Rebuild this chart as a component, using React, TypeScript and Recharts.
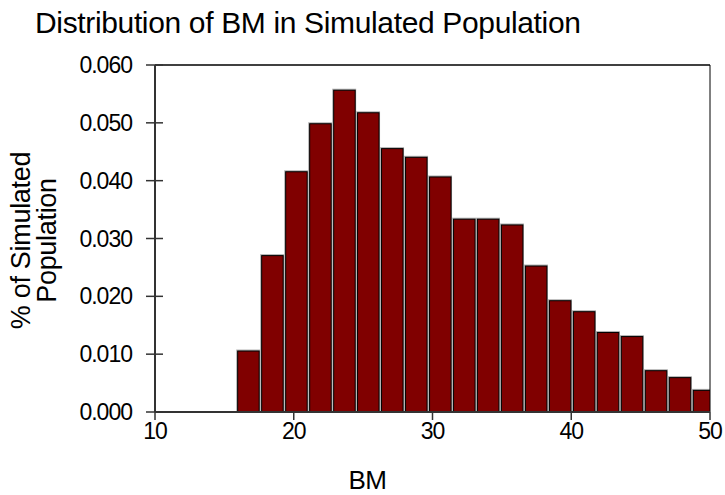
import { BarChart, Bar, XAxis, YAxis, ReferenceLine, Label } from "recharts";

// histogram bins (BM bin midpoints) and the share of the population in each
const BIN_CENTERS = [
  16.71, 18.44, 20.17, 21.9, 23.63, 25.35, 27.08, 28.81, 30.54, 32.27,
  33.99, 35.72, 37.45, 39.18, 40.91, 42.63, 44.36, 46.09, 47.82, 49.55,
];
const SHARES = [
  0.0108, 0.0273, 0.0418, 0.0501, 0.0559, 0.052, 0.0458, 0.0443, 0.0409, 0.0336,
  0.0336, 0.0326, 0.0255, 0.0195, 0.0176, 0.014, 0.0133, 0.0074, 0.0062, 0.004,
];
const X_TICKS = [10, 20, 30, 40, 50];
const Y_TICKS = [0, 0.01, 0.02, 0.03, 0.04, 0.05, 0.06];

const data = BIN_CENTERS.map((bm, i) => ({ bm, share: SHARES[i] }));

const FONT = '"Liberation Sans", Arial, Helvetica, sans-serif';
const AXIS = "#333";
const Y_TICK_OUT = 9;
const Y_TICK_IN = 8;
const Y_TICK_GAP = 14;

// maroon bar with a black outline and a thin grey rim
function BinRect(props: any) {
  const { x, y, width, height } = props;
  if (!height || height <= 0) return null;
  return (
    <g>
      <rect x={x} y={y} width={width} height={height} fill="#b0b0b0" />
      <rect
        x={x + 1.5}
        y={y + 1.5}
        width={width - 2.5}
        height={height - 1.5}
        fill="#800000"
        stroke="#000"
        strokeWidth={1}
      />
    </g>
  );
}

// y tick label plus the part of the tick that reaches into the plot
function YTick(props: any) {
  const { x, y, payload } = props;
  const axisX = x + Y_TICK_OUT + Y_TICK_GAP;
  return (
    <g>
      <line x1={axisX} x2={axisX + Y_TICK_IN} y1={y} y2={y} stroke={AXIS} strokeWidth={1.5} />
      <text
        x={x}
        y={y}
        dy="0.355em"
        textAnchor="end"
        fontFamily={FONT}
        fontSize={23}
        letterSpacing={-1}
        fill="#000"
      >
        {Number(payload.value).toFixed(3)}
      </text>
    </g>
  );
}

function YTitle(props: any) {
  const { viewBox } = props;
  const cy = viewBox.y + viewBox.height / 2 + 2;
  return (
    <g fontFamily={FONT} fontSize={27} fill="#000" letterSpacing={-0.3}>
      <text transform={`translate(${viewBox.x + 30}, ${cy}) rotate(-90)`} textAnchor="middle">
        % of Simulated
      </text>
      <text transform={`translate(${viewBox.x + 56}, ${cy}) rotate(-90)`} textAnchor="middle">
        Population
      </text>
    </g>
  );
}

function XTitle(props: any) {
  const { viewBox } = props;
  return (
    <text
      x={viewBox.x + viewBox.width / 2 - 65}
      y={viewBox.y + 77}
      textAnchor="middle"
      fontFamily={FONT}
      fontSize={26}
      letterSpacing={-0.5}
      fill="#000"
    >
      BM
    </text>
  );
}

const tickStyle = { fontSize: 23, fill: "#000", fontFamily: FONT, letterSpacing: -1 };

export default function App() {
  return (
    <div style={{ position: "absolute", left: 0, top: 0, width: 725, height: 495, background: "#fff" }}>
      <div
        style={{
          position: "absolute",
          left: 35,
          top: 8,
          fontFamily: FONT,
          fontSize: 30,
          letterSpacing: -0.35,
          lineHeight: "29px",
          color: "#000",
          whiteSpace: "nowrap",
        }}
      >
        Distribution of BM in Simulated Population
      </div>
      <BarChart
        width={725}
        height={495}
        data={data}
        margin={{ top: 65, right: 15, left: 0, bottom: 0 }}
        barCategoryGap={0}
        barGap={0}
      >
        <XAxis
          dataKey="bm"
          type="number"
          domain={[10, 50]}
          ticks={X_TICKS}
          allowDataOverflow
          height={83}
          tick={tickStyle}
          tickSize={8}
          tickMargin={3}
          axisLine={{ stroke: AXIS, strokeWidth: 2 }}
          tickLine={{ stroke: AXIS, strokeWidth: 1.5 }}
        >
          <Label content={<XTitle />} />
        </XAxis>
        <YAxis
          type="number"
          domain={[0, 0.06]}
          ticks={Y_TICKS}
          width={155}
          tick={<YTick />}
          tickSize={Y_TICK_OUT}
          tickMargin={Y_TICK_GAP}
          axisLine={{ stroke: AXIS, strokeWidth: 2 }}
          tickLine={{ stroke: AXIS, strokeWidth: 1.5 }}
        >
          <Label content={<YTitle />} />
        </YAxis>
        <ReferenceLine y={0.06} stroke="#000" strokeWidth={1.5} />
        <ReferenceLine x={50} stroke="#000" strokeWidth={1} />
        <Bar dataKey="share" shape={<BinRect />} isAnimationActive={false} />
      </BarChart>
    </div>
  );
}
